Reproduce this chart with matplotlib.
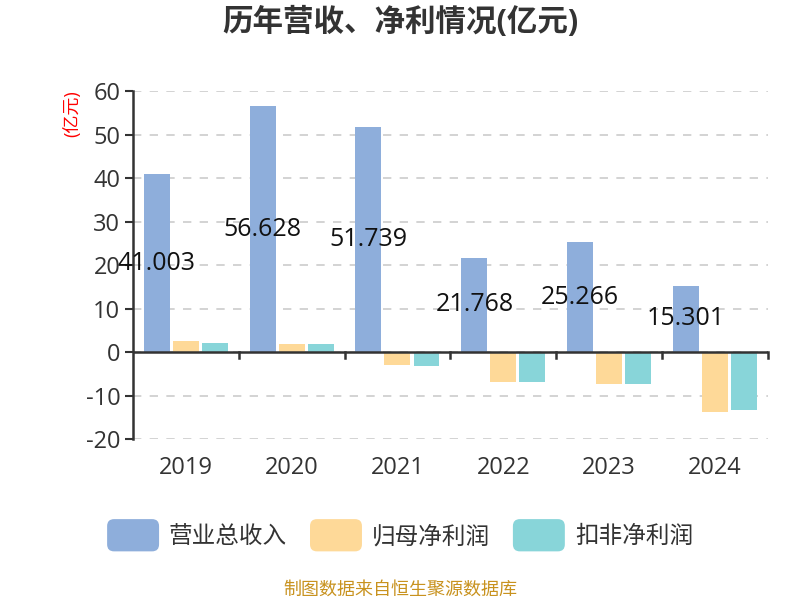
import numpy as np
import matplotlib
matplotlib.use("Agg")
import matplotlib.pyplot as plt
from matplotlib.patches import FancyBboxPatch, Patch
from matplotlib.legend_handler import HandlerPatch

plt.rcParams['font.family'] = ['Open Sans', 'Noto Sans CJK SC', 'DejaVu Sans']
plt.rcParams['axes.unicode_minus'] = False

# data (亿元)
years = ['2019', '2020', '2021', '2022', '2023', '2024']
revenue = [41.003, 56.628, 51.739, 21.768, 25.266, 15.301]
net_profit = [2.6, 1.9, -3.05, -6.9, -7.3, -13.8]
net_profit_deducted = [2.2, 1.95, -3.2, -6.75, -7.2, -13.4]
series_names = ['营业总收入', '归母净利润', '扣非净利润']

c_rev = '#8eaedb'
c_net = '#fed998'
c_ded = '#88d5d9'

fig = plt.figure(figsize=(8, 6), dpi=100)
ax = fig.add_axes([0.166, 0.268, 0.794, 0.58])

x = np.arange(len(years))
w = 0.245
ax.bar(x - 0.274, revenue, w, color=c_rev, zorder=3)
ax.bar(x, net_profit, w, color=c_net, zorder=3)
ax.bar(x + 0.274, net_profit_deducted, w, color=c_ded, zorder=3)

# revenue labels sit halfway up the bar
for xi, v in zip(x, revenue):
    ax.text(xi - 0.274, v / 2, f'{v:.3f}', ha='center', va='center',
            fontsize=18, color='#111111', zorder=5)

ax.set_xlim(-0.5, len(years) - 0.5)
ax.set_ylim(-20, 60)
ax.set_yticks(range(-20, 61, 10))
ax.yaxis.grid(True, linestyle=(0, (5, 5)), color='#cccccc', linewidth=1.2, zorder=0)
ax.tick_params(axis='y', labelsize=17, labelcolor='#333333', color='#333333',
               length=6, width=1.5, pad=3)

# x axis line at zero with ticks between categories
for s in ['top', 'right', 'bottom']:
    ax.spines[s].set_visible(False)
ax.spines['left'].set_color('#333333')
ax.spines['left'].set_linewidth(1.8)
ax.axhline(0, color='#333333', linewidth=1.8, zorder=4)
for b in np.arange(0.5, len(years), 1.0):
    ax.plot([b, b], [0, -1.3], color='#333333', linewidth=1.8, zorder=4, clip_on=False)
ax.set_xticks(x)
ax.set_xticklabels(years)
ax.tick_params(axis='x', length=0, labelsize=17, labelcolor='#333333', pad=12)

fig.text(0.5, 0.962, '历年营收、净利情况(亿元)', ha='center', va='center',
         fontsize=22, fontweight='bold', color='#333333')
fig.text(0.09, 0.81, '(亿元)', ha='center', va='center', rotation=90,
         fontsize=13, color='red')


class RoundHandler(HandlerPatch):
    def create_artists(self, legend, orig_handle, xdescent, ydescent, width, height, fontsize, trans):
        p = FancyBboxPatch((-xdescent, -ydescent - 4), width, height + 8,
                           boxstyle='round,pad=0,rounding_size=5',
                           facecolor=orig_handle.get_facecolor(), edgecolor='none',
                           transform=trans)
        return [p]


handles = [Patch(facecolor=c) for c in (c_rev, c_net, c_ded)]
fig.legend(handles, series_names, loc='center', bbox_to_anchor=(0.5, 0.105), ncol=3,
           frameon=False, fontsize=17, labelcolor='#333333',
           handlelength=2.2, handleheight=1.0, handletextpad=0.42, columnspacing=0.97,
           handler_map={Patch: RoundHandler()})

fig.text(0.5, 0.017, '制图数据来自恒生聚源数据库', ha='center', va='center',
         fontsize=13, color='#c8921e')

fig.savefig('out.png', dpi=100)
